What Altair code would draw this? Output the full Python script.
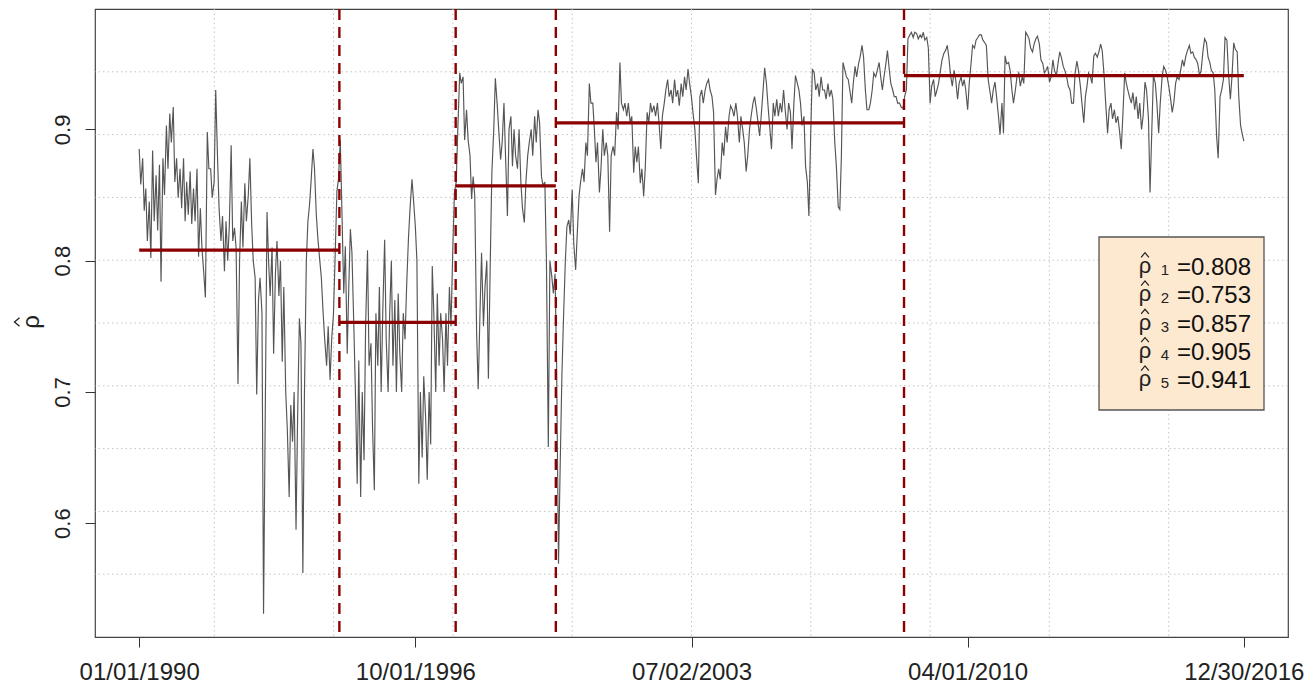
import altair as alt
import pandas as pd

FONT = "Liberation Sans"

# ---------------- data ----------------
tick_labels = ["01/01/1990", "10/01/1996", "07/02/2003", "04/01/2010", "12/30/2016"]
y_ticks = [0.6, 0.7, 0.8, 0.9]
series_start = "1990-01-01"
series_end = "2016-12-30"
cp_dates = ["1994-11-23", "1997-09-26", "2000-03-08", "2008-09-10"]
seg_means = [0.808, 0.753, 0.857, 0.905, 0.941]

# semi-monthly readings (1st and 15th of each month)
rho_seg1 = [
    0.885, 0.858, 0.878, 0.838, 0.855, 0.815, 0.845, 0.802, 0.884, 0.830,
    0.865, 0.823, 0.873, 0.784, 0.878, 0.850, 0.903, 0.870, 0.912, 0.890,
    0.917, 0.860, 0.878, 0.848, 0.870, 0.840, 0.878, 0.830, 0.860, 0.835,
    0.868, 0.828, 0.855, 0.830, 0.870, 0.803, 0.840, 0.810, 0.790, 0.772,
    0.898, 0.870, 0.870, 0.848, 0.860, 0.930, 0.880, 0.840, 0.815, 0.834,
    0.792, 0.830, 0.800, 0.825, 0.888, 0.815, 0.825, 0.810, 0.706, 0.800,
    0.845, 0.810, 0.859, 0.830, 0.850, 0.878, 0.828, 0.800, 0.787, 0.698,
    0.770, 0.787, 0.760, 0.531, 0.700, 0.837, 0.800, 0.773, 0.810, 0.729,
    0.790, 0.815, 0.773, 0.800, 0.723, 0.780, 0.700, 0.672, 0.620, 0.690,
    0.662, 0.700, 0.595, 0.680, 0.756, 0.737, 0.562, 0.698, 0.800, 0.830,
    0.842, 0.860, 0.885, 0.870, 0.835, 0.817, 0.800, 0.787, 0.760, 0.740,
    0.720, 0.750, 0.709, 0.740, 0.759, 0.800, 0.853, 0.862,
]
rho_seg2 = [
    0.892, 0.840, 0.775, 0.811, 0.729, 0.780, 0.824, 0.806, 0.750, 0.700,
    0.630, 0.724, 0.620, 0.700, 0.648, 0.750, 0.808, 0.720, 0.737, 0.673,
    0.625, 0.760, 0.720, 0.780, 0.700, 0.760, 0.816, 0.740, 0.700, 0.760,
    0.800, 0.720, 0.770, 0.700, 0.775, 0.730, 0.700, 0.760, 0.740, 0.780,
    0.818, 0.840, 0.862, 0.846, 0.826, 0.800, 0.630, 0.700, 0.650, 0.712,
    0.680, 0.633, 0.700, 0.660, 0.796, 0.760, 0.700, 0.775, 0.720, 0.760,
    0.740, 0.700, 0.760, 0.720, 0.780, 0.750, 0.811, 0.852,
]
rho_seg3 = [
    0.860, 0.900, 0.943, 0.935, 0.940, 0.892, 0.915, 0.892, 0.880, 0.847,
    0.864, 0.850, 0.745, 0.702, 0.760, 0.806, 0.750, 0.780, 0.800, 0.710,
    0.800, 0.867, 0.900, 0.939, 0.920, 0.900, 0.877, 0.890, 0.920, 0.880,
    0.834, 0.900, 0.910, 0.872, 0.900, 0.880, 0.870, 0.900, 0.860, 0.840,
    0.829, 0.860, 0.880, 0.890, 0.900, 0.880, 0.910, 0.890, 0.915, 0.905,
    0.864, 0.857, 0.860, 0.800, 0.658, 0.800, 0.788, 0.775, 0.790, 0.720,
]
rho_seg4 = [
    0.569, 0.640, 0.712, 0.755, 0.800, 0.826, 0.831, 0.820, 0.854, 0.813,
    0.793, 0.820, 0.849, 0.860, 0.870, 0.860, 0.890, 0.880, 0.935, 0.920,
    0.920, 0.900, 0.875, 0.890, 0.852, 0.870, 0.900, 0.880, 0.890, 0.880,
    0.822, 0.880, 0.887, 0.880, 0.913, 0.900, 0.951, 0.920, 0.915, 0.920,
    0.910, 0.920, 0.905, 0.910, 0.867, 0.887, 0.875, 0.887, 0.859, 0.870,
    0.849, 0.870, 0.913, 0.905, 0.920, 0.913, 0.918, 0.910, 0.920, 0.905,
    0.885, 0.910, 0.920, 0.930, 0.938, 0.925, 0.930, 0.920, 0.938, 0.925,
    0.930, 0.918, 0.935, 0.925, 0.940, 0.930, 0.946, 0.935, 0.925, 0.913,
    0.900, 0.880, 0.859, 0.925, 0.930, 0.920, 0.930, 0.935, 0.938, 0.930,
    0.925, 0.913, 0.850, 0.862, 0.870, 0.862, 0.890, 0.880, 0.902, 0.890,
    0.910, 0.918, 0.915, 0.910, 0.920, 0.910, 0.890, 0.910, 0.900, 0.890,
    0.868, 0.880, 0.900, 0.910, 0.920, 0.925, 0.915, 0.905, 0.895, 0.910,
    0.930, 0.947, 0.935, 0.918, 0.900, 0.885, 0.920, 0.910, 0.923, 0.910,
    0.920, 0.913, 0.930, 0.915, 0.900, 0.920, 0.913, 0.885, 0.920, 0.941,
    0.935, 0.930, 0.920, 0.903, 0.910, 0.872, 0.860, 0.834, 0.900, 0.946,
    0.943, 0.930, 0.935, 0.925, 0.940, 0.930, 0.930, 0.923, 0.935, 0.925,
    0.930, 0.923, 0.890, 0.872, 0.841, 0.839, 0.880, 0.951, 0.945, 0.940,
    0.938, 0.930, 0.920, 0.935, 0.948, 0.940, 0.950, 0.955, 0.964, 0.955,
    0.930, 0.915, 0.915, 0.920, 0.930, 0.943, 0.940, 0.945, 0.951, 0.940,
    0.930, 0.940, 0.950, 0.960, 0.946, 0.935, 0.930, 0.925, 0.925, 0.920,
    0.920, 0.917, 0.916, 0.925,
]
rho_seg5 = [
    0.930, 0.969, 0.972, 0.974, 0.970, 0.974, 0.973, 0.969, 0.972, 0.970,
    0.974, 0.968, 0.970, 0.962, 0.920, 0.933, 0.938, 0.925, 0.930, 0.935,
    0.945, 0.953, 0.958, 0.960, 0.964, 0.955, 0.940, 0.933, 0.945, 0.938,
    0.923, 0.935, 0.940, 0.933, 0.938, 0.930, 0.915, 0.935, 0.950, 0.964,
    0.962, 0.968, 0.970, 0.972, 0.972, 0.968, 0.966, 0.964, 0.938, 0.930,
    0.920, 0.930, 0.936, 0.925, 0.910, 0.896, 0.920, 0.897, 0.956, 0.950,
    0.951, 0.945, 0.930, 0.920, 0.930, 0.940, 0.943, 0.933, 0.940, 0.935,
    0.974, 0.972, 0.969, 0.962, 0.959, 0.965, 0.969, 0.971, 0.965, 0.953,
    0.950, 0.943, 0.945, 0.948, 0.936, 0.940, 0.953, 0.945, 0.941, 0.950,
    0.959, 0.955, 0.948, 0.945, 0.940, 0.933, 0.930, 0.920, 0.920, 0.943,
    0.952, 0.945, 0.933, 0.920, 0.905, 0.925, 0.933, 0.943, 0.940, 0.935,
    0.956, 0.958, 0.955, 0.959, 0.965, 0.960, 0.941, 0.920, 0.897, 0.915,
    0.920, 0.908, 0.915, 0.905, 0.910, 0.900, 0.885, 0.910, 0.943, 0.935,
    0.930, 0.925, 0.920, 0.928, 0.915, 0.925, 0.908, 0.920, 0.900, 0.910,
    0.936, 0.930, 0.908, 0.852, 0.900, 0.941, 0.935, 0.920, 0.897, 0.920,
    0.940, 0.948, 0.945, 0.940, 0.933, 0.925, 0.913, 0.920, 0.935, 0.940,
    0.938, 0.945, 0.953, 0.948, 0.956, 0.960, 0.964, 0.958, 0.959, 0.955,
    0.953, 0.950, 0.941, 0.945, 0.960, 0.969, 0.966, 0.955, 0.951, 0.945,
    0.943, 0.930, 0.895, 0.878, 0.925, 0.930, 0.938, 0.970, 0.968, 0.943,
    0.923, 0.940, 0.966, 0.961, 0.959, 0.925, 0.903, 0.897,
]
rho_last = 0.891

# ---------------- tables ----------------
rho = rho_seg1 + rho_seg2 + rho_seg3 + rho_seg4 + rho_seg5
dates = list(pd.date_range(series_start, periods=len(rho), freq="SMS")) + [pd.Timestamp(series_end)]
series_df = pd.DataFrame({"date": dates, "rho": rho + [rho_last]})

bounds = [series_start] + cp_dates + [series_end]
seg_df = pd.DataFrame({
    "start": pd.to_datetime(bounds[:-1]),
    "end": pd.to_datetime(bounds[1:]),
    "mean": seg_means,
})
cp_df = pd.DataFrame({"cp": pd.to_datetime(cp_dates)})

# R-style 4% range extension
t0, t1 = pd.Timestamp(series_start), pd.Timestamp(series_end)
span = t1 - t0
d0, d1 = t0 - 0.04 * span, t1 + 0.04 * span
vals = series_df["rho"]
yr = vals.max() - vals.min()
y_lo, y_hi = vals.min() - 0.04 * yr, vals.max() + 0.04 * yr

# R grid(10, 10): equal divisions of the plot region
gx_df = pd.DataFrame({"gx": [d0 + k * (d1 - d0) / 10 for k in range(1, 10)]})
gy_df = pd.DataFrame({"gy": [y_lo + k * (y_hi - y_lo) / 10 for k in range(1, 10)]})


def dt(ts):
    return alt.DateTime(year=ts.year, month=ts.month, date=ts.day,
                        hours=ts.hour, minutes=ts.minute)


x_scale = alt.Scale(domain=[dt(d0), dt(d1)])
y_scale = alt.Scale(domain=[y_lo, y_hi], nice=False, zero=False)

x_axis = alt.Axis(
    values=[dt(pd.to_datetime(s, format="%m/%d/%Y")) for s in tick_labels],
    format="%m/%d/%Y", title=None, grid=False, domain=False,
    tickSize=10, tickColor="#333", tickWidth=1,
    labelFont=FONT, labelFontSize=24, labelColor="#222", labelPadding=13,
    labelFlush=False, labelOverlap=False,
)
y_axis = alt.Axis(
    values=y_ticks, format=".1f", title=None, grid=False, domain=False,
    tickSize=10, tickColor="#333", tickWidth=1,
    labelFont=FONT, labelFontSize=22, labelColor="#222", labelPadding=11,
    labelAngle=270, labelAlign="center", labelBaseline="bottom",
)

grid_style = dict(color="#C4C4C4", strokeDash=[1.5, 3], strokeWidth=1)

grid_x = alt.Chart(gx_df).mark_rule(**grid_style).encode(
    x=alt.X("gx:T", scale=x_scale, axis=x_axis))
grid_y = alt.Chart(gy_df).mark_rule(**grid_style).encode(
    y=alt.Y("gy:Q", scale=y_scale, axis=y_axis))

line = alt.Chart(series_df).mark_line(color="#555555", strokeWidth=1.15).encode(
    x=alt.X("date:T", scale=x_scale, axis=x_axis),
    y=alt.Y("rho:Q", scale=y_scale, axis=y_axis),
)

segs = alt.Chart(seg_df).mark_rule(color="#8B0000", strokeWidth=3.2).encode(
    x=alt.X("start:T", scale=x_scale, axis=x_axis),
    x2="end:T",
    y=alt.Y("mean:Q", scale=y_scale, axis=y_axis),
)

cps = alt.Chart(cp_df).mark_rule(color="#8B0000", strokeWidth=2.4, strokeDash=[11, 7]).encode(
    x=alt.X("cp:T", scale=x_scale, axis=x_axis))

one = pd.DataFrame({"a": [0]})

HAT_UP = "M-1,0.6L0,-0.6L1,0.6"
HAT_LEFT = "M0.6,-1L-0.6,0L0.6,1"

# y-axis title: rho with a hat, rotated like R's ylab
ytitle_rho = alt.Chart(one).mark_text(
    text="ρ", font=FONT, fontSize=24, angle=270, align="center", baseline="alphabetic", color="#222"
).encode(x=alt.value(-56), y=alt.value(313))
ytitle_hat = alt.Chart(one).mark_point(
    shape=HAT_LEFT, filled=False, size=70, strokeWidth=1.3, color="#222", opacity=1
).encode(x=alt.value(-78), y=alt.value(313))

box = alt.Chart(one).mark_rect(fill="#FDE8D0", stroke="#555555", strokeWidth=1.3).encode(
    x=alt.value(1004), x2=alt.value(1169), y=alt.value(228), y2=alt.value(401))

legend_layers = []
for i, m in enumerate(seg_means):
    yy = 266 + i * 28.3
    legend_layers.append(alt.Chart(one).mark_text(
        text="ρ", font=FONT, fontSize=22, align="center", baseline="alphabetic", color="#222"
    ).encode(x=alt.value(1050), y=alt.value(yy - 2)))
    legend_layers.append(alt.Chart(one).mark_point(
        shape=HAT_UP, filled=False, size=60, strokeWidth=1.2, color="#222", opacity=1
    ).encode(x=alt.value(1050), y=alt.value(yy - 20)))
    legend_layers.append(alt.Chart(one).mark_text(
        text=str(i + 1), font=FONT, fontSize=15, align="center", baseline="alphabetic", color="#222"
    ).encode(x=alt.value(1070), y=alt.value(yy)))
    legend_layers.append(alt.Chart(one).mark_text(
        text=f"={m:.3f}", font=FONT, fontSize=24, align="right", baseline="alphabetic", color="#111"
    ).encode(x=alt.value(1156), y=alt.value(yy)))

chart = alt.layer(grid_x, grid_y, line, segs, cps, ytitle_rho, ytitle_hat, box, *legend_layers).properties(
    width=1193, height=628,
    padding={"left": 87, "top": 1, "right": 18, "bottom": 49},
    autosize=alt.AutoSizeParams(type="none"),
).configure_view(stroke="#444444", strokeWidth=1.2)

chart.save("out.html", embed_options={"renderer": "svg", "actions": False})
